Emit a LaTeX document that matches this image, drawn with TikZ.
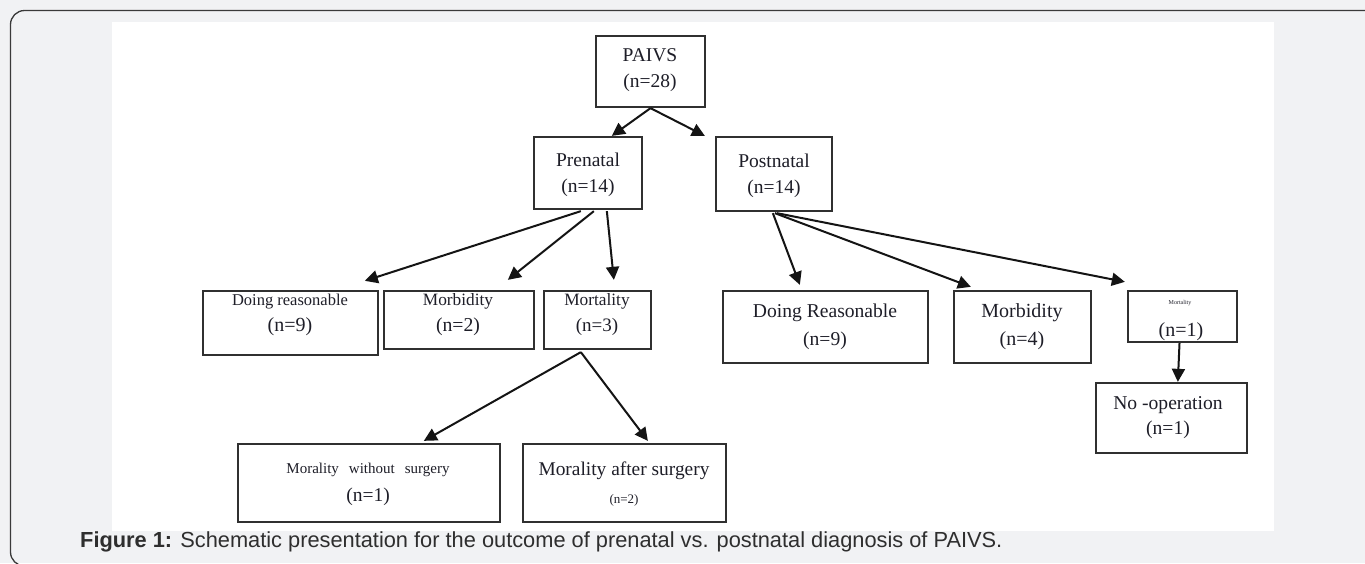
\documentclass[tikz,border=0pt]{standalone}
\usepackage{fontspec}
\setmainfont{Liberation Serif}
\newfontfamily\capfont{Liberation Sans}
\usetikzlibrary{arrows.meta,calc}
\definecolor{pagegray}{HTML}{F1F2F4}
\definecolor{framegray}{HTML}{3A3A3A}
\definecolor{boxline}{HTML}{303030}
\definecolor{inkc}{HTML}{1E1E28}
\newcommand{\mkbox}[5]{\node[box,minimum width={(#4)-(#2)},minimum height={(#5)-(#3)}] (#1) at ({((#2)+(#4))/2},{((#3)+(#5))/2}) {};}
\newcommand{\fs}[2]{\fontsize{#1}{#2}\selectfont}
\begin{document}
\begin{tikzpicture}[x=1pt,y=-1pt,
  box/.style={draw=boxline,line width=2.3pt,inner sep=0pt,fill=white},
  txt/.style={align=center,inner sep=0pt,text=inkc},
  arr/.style={draw=black!92,line width=2pt,-{Triangle[length=13pt,width=13pt]}},
]
\useasboundingbox (0,0) rectangle (1365,563);
\begin{scope}
\clip (0,0) rectangle (1365,563);
\fill[pagegray] (0,0) rectangle (1365,563);
\draw[framegray,line width=1.3pt,rounded corners=14pt] (1370,10.5) -- (10.5,10.5) -- (10.5,566) -- (60,566);
\end{scope}
\fill[white] (112,22) rectangle (1274,531);

% boxes
\mkbox{paivs}{596}{36}{705}{107}
\mkbox{prenatal}{534}{137}{642}{209}
\mkbox{postnatal}{716}{137}{832}{211}
\mkbox{doingL}{203}{291}{378}{355}
\mkbox{morbL}{384}{291}{534}{349}
\mkbox{mortL}{544}{291}{651}{349}
\mkbox{doingR}{723}{291}{928}{363}
\mkbox{morbR}{954}{291}{1091}{363}
\mkbox{mortR}{1128}{291}{1237}{342}
\mkbox{noop}{1096}{383}{1247}{453}
\mkbox{wo}{238}{444}{500}{522}
\mkbox{after}{523}{444}{726}{522}

% texts
\node[txt,font=\fs{19.5}{26}] (tpaivs) at (650,70) {PAIVS\\(n=28)};
\node[txt,font=\fs{19.5}{26}] (tprenatal) at (588,175) {Prenatal\\(n=14)};
\node[txt,font=\fs{19.5}{26}] (tpostnatal) at (774,176) {Postnatal\\(n=14)};
\node[txt,font=\fs{19}{26}] (tdoingL) at (290,315) {{\fs{16.5}{26}Doing reasonable}\\{\fs{20}{26}(n=9)}};
\node[txt,font=\fs{19}{26}] (tmorbL) at (458,315) {{\fs{17.3}{26}Morbidity}\\{\fs{19.7}{26}(n=2)}};
\node[txt,font=\fs{19}{26}] (tmortL) at (597,315) {{\fs{17.3}{26}Mortality}\\{\fs{19}{26}(n=3)}};
\node[txt,font=\fs{19.6}{28}] (tdoingR) at (825,327) {Doing Reasonable\\(n=9)};
\node[txt,font=\fs{20}{28}] (tmorbR) at (1022,327) {Morbidity\\(n=4)};
\node[txt,font=\fs{6}{7}] (tmortR1) at (1180,303) {Mortality};
\node[txt,font=\fs{20}{24}] (tmortR2) at (1181,332) {(n=1)};
\node[txt,font=\fs{19.6}{25}] (tnoop) at (1168,418) {No -operation\\(n=1)};
\node[txt,font=\fs{19}{28}] (two) at (368,484) {{\fs{15}{28}Morality\hspace{10pt}without\hspace{10pt}surgery}\\{\fs{19.5}{28}(n=1)}};
\node[txt,font=\fs{19}{28}] (tafter) at (624,484) {{\fs{19.4}{28}Morality after surgery}\\{\fs{13}{28}(n=2)}};

% arrows
\draw[arr] (paivs.south) -- ($(prenatal.north west)+(79,0)$);
\draw[arr] (paivs.south) -- ($(postnatal.north west)+(-10,0)$);
\draw[arr] ($(prenatal.south west)+(48,1)$) -- ($(doingL.north west)+(163,-9)$);
\draw[arr] ($(prenatal.south west)+(61,1)$) -- ($(morbL.north west)+(125,-10)$);
\draw[arr] ($(prenatal.south west)+(74,1)$) -- ($(mortL.north west)+(71,-10)$);
\draw[arr] ($(postnatal.south west)+(58,1)$) -- ($(doingR.north west)+(78,-5)$);
\draw[arr] ($(postnatal.south west)+(60,1)$) -- ($(morbR.north west)+(18,-3)$);
\draw[arr] ($(postnatal.south west)+(62,1)$) -- ($(mortR.north west)+(-2,-8)$);
\draw[arr] ($(mortR.south)+(-3,0)$) -- ($(noop.north west)+(83,0)$);
\draw[arr] ($(mortL.south west)+(38,2)$) -- ($(wo.north west)+(187,-2)$);
\draw[arr] ($(mortL.south west)+(38,2)$) -- ($(after.north west)+(126,-2)$);

% caption
\node[anchor=base west,inner sep=0pt,font=\capfont\fs{21.8}{24},text=black!82] (cap) at (80,547) {\textbf{Figure 1:} Schematic presentation for the outcome of prenatal vs. postnatal diagnosis of PAIVS.};
\end{tikzpicture}
\end{document}
